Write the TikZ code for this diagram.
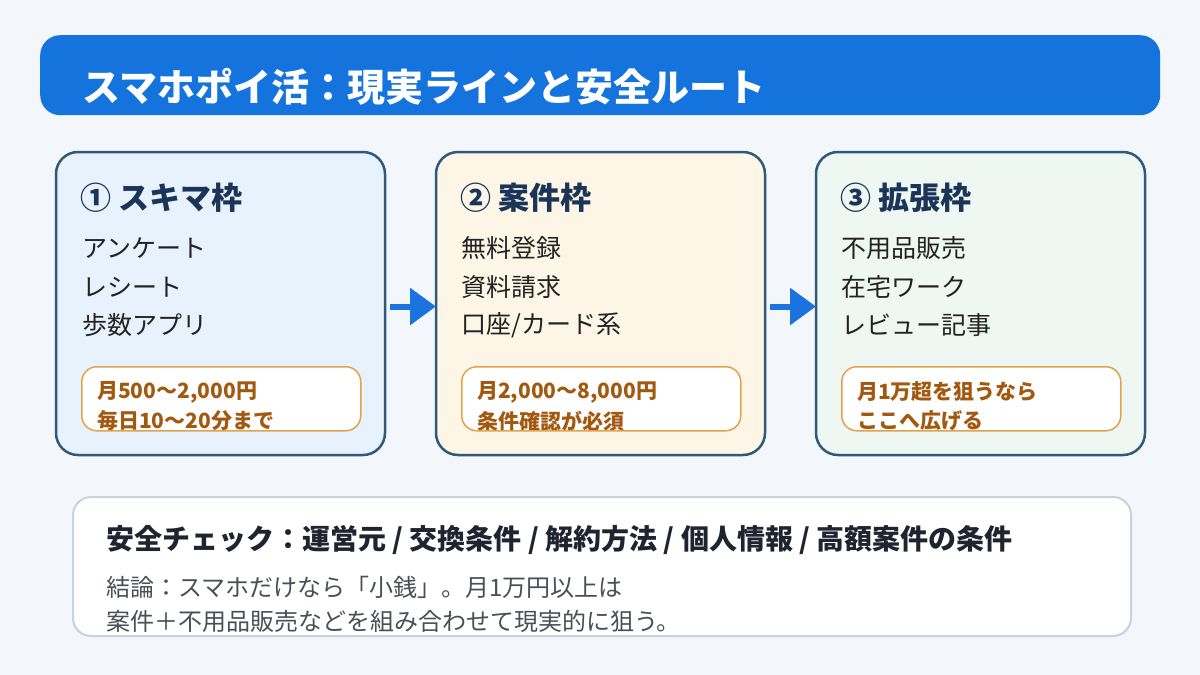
\documentclass[tikz,border=0pt]{standalone}
\usepackage{fontspec}
\setmainfont{Noto Sans CJK JP}
\usetikzlibrary{arrows.meta}
\definecolor{bgc}{HTML}{F3F7FC}
\definecolor{barc}{HTML}{1473DC}
\definecolor{boxline}{HTML}{2F5A7C}
\definecolor{headc}{HTML}{1B3558}
\definecolor{itemc}{HTML}{222222}
\definecolor{fillA}{HTML}{E8F2FC}
\definecolor{fillB}{HTML}{FDF6E6}
\definecolor{fillC}{HTML}{EEF7F1}
\definecolor{badgeline}{HTML}{E2A24C}
\definecolor{badgetxt}{HTML}{A2580F}
\definecolor{arrowc}{HTML}{1A73DE}
\definecolor{sumline}{HTML}{C9D1DB}
\definecolor{sumhead}{HTML}{1F2430}
\definecolor{sumtxt}{HTML}{4A4F57}
\tikzset{
  stagebox/.style={draw=boxline, line width=2.5pt, rounded corners=22pt, minimum width=329pt, minimum height=303pt, anchor=north west, inner sep=0pt, outer sep=0pt},
  stagehead/.style={anchor=west, inner sep=0pt, text=headc, font=\bfseries\fontsize{31pt}{36pt}\selectfont},
  stageitem/.style={anchor=west, inner sep=0pt, text=itemc, font=\fontsize{25pt}{29pt}\selectfont},
  badgebox/.style={draw=badgeline, line width=1.5pt, rounded corners=15pt, minimum width=279pt, minimum height=64pt, anchor=north west, inner sep=0pt},
  badgetext/.style={anchor=west, inner sep=0pt, text=badgetxt, font=\bfseries\fontsize{21pt}{25pt}\selectfont},
  flowarrow/.style={draw=arrowc, line width=6pt, -{Triangle[length=26pt,width=36pt]}, shorten <=5pt},
  sumtext/.style={anchor=west, inner sep=0pt, text=sumtxt, font=\fontsize{24pt}{28pt}\selectfont},
}
\begin{document}
\begin{tikzpicture}[x=1pt,y=-1pt]
\fill[bgc] (0,0) rectangle (1200,675);
% title bar
\node[fill=barc, rounded corners=20pt, minimum width=1120pt, minimum height=80pt, anchor=north west, inner sep=0pt] (bar) at (40,35) {};
\node[anchor=west, inner sep=0pt, text=white, font=\bfseries\fontsize{38pt}{43pt}\selectfont] (title) at (82,87) {スマホポイ活：現実ラインと安全ルート};
% boxes
\node[stagebox, fill=fillA] (b1) at (56,152) {};
\node[stagebox, fill=fillB] (b2) at (436,152) {};
\node[stagebox, fill=fillC] (b3) at (816,152) {};
% box 1
\node[stagehead] (h1) at (80,198) {① スキマ枠};
\node[stageitem] (i11) at (82,248) {アンケート};
\node[stageitem] (i12) at (82,287) {レシート};
\node[stageitem] (i13) at (82,325) {歩数アプリ};
\begin{scope}
\clip[rounded corners=15pt] (81,366) rectangle (360,430);
\fill[white] (81,366) rectangle (360,430);
\node[badgetext] (t11) at (97,392) {月500～2,000円};
\node[badgetext] (t12) at (97,421) {毎日10～20分まで};
\end{scope}
\node[badgebox] (p1) at (81,366) {};
% box 2
\node[stagehead] (h2) at (460,198) {② 案件枠};
\node[stageitem] (i21) at (461,248) {無料登録};
\node[stageitem] (i22) at (461,287) {資料請求};
\node[stageitem] (i23) at (461,325) {口座/カード系};
\begin{scope}
\clip[rounded corners=15pt] (461,366) rectangle (740,430);
\fill[white] (461,366) rectangle (740,430);
\node[badgetext] (t21) at (477,392) {月2,000～8,000円};
\node[badgetext] (t22) at (477,421) {条件確認が必須};
\end{scope}
\node[badgebox] (p2) at (461,366) {};
% box 3
\node[stagehead] (h3) at (840,198) {③ 拡張枠};
\node[stageitem] (i31) at (841,248) {不用品販売};
\node[stageitem] (i32) at (841,287) {在宅ワーク};
\node[stageitem] (i33) at (841,325) {レビュー記事};
\begin{scope}
\clip[rounded corners=15pt] (841,366) rectangle (1120,430);
\fill[white] (841,366) rectangle (1120,430);
\node[badgetext] (t31) at (857,392) {月1万超を狙うなら};
\node[badgetext] (t32) at (857,421) {ここへ広げる};
\end{scope}
\node[badgebox] (p3) at (841,366) {};
% arrows
\draw[flowarrow] ([yshift=-3pt]b1.east) -- ([yshift=-3pt]b2.west);
\draw[flowarrow] ([yshift=-3pt]b2.east) -- ([yshift=-3pt]b3.west);
% summary
\begin{scope}
\clip[rounded corners=18pt] (72,496) rectangle (1130,635);
\fill[white] (72,496) rectangle (1130,635);
\node[anchor=west, inner sep=0pt, text=sumhead, font=\bfseries\fontsize{28pt}{32pt}\selectfont] (sh) at (106,540) {安全チェック：運営元 / 交換条件 / 解約方法 / 個人情報 / 高額案件の条件};
\node[sumtext] (s1) at (106,587) {結論：スマホだけなら「小銭」。月1万円以上は};
\node[sumtext] (s2) at (106,621) {案件＋不用品販売などを組み合わせて現実的に狙う。};
\end{scope}
\node[draw=sumline, line width=2pt, rounded corners=18pt, minimum width=1058pt, minimum height=139pt, anchor=north west, inner sep=0pt] (sb) at (72,496) {};
\end{tikzpicture}
\end{document}
